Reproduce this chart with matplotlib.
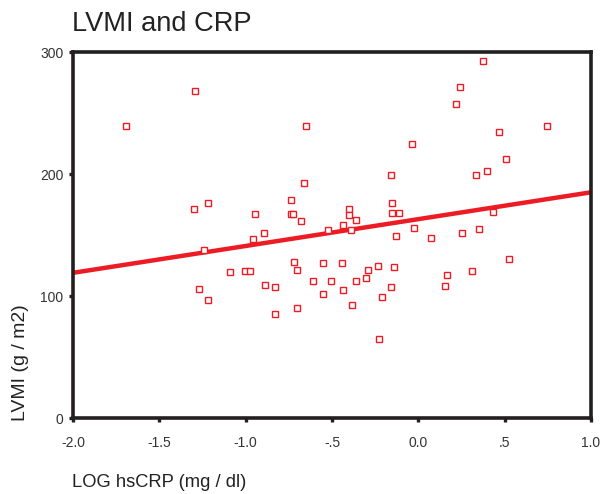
import matplotlib
matplotlib.use("Agg")
import matplotlib.pyplot as plt

plt.rcParams['font.family'] = ['Liberation Sans', 'DejaVu Sans']

# LOG hsCRP values (x) and LVMI values (y)
log_crp = [-1.695, -1.293, -1.301, -1.221, -0.948, -0.960, -0.651, -0.035,
           -0.160, -0.661, -0.740, -0.740, -0.724, -0.678, -0.894, -0.399,
           -0.399, -0.360, -0.435, -0.522, -0.389, -0.152, -0.152, -0.110,
           -0.027, -0.127, 0.073, 0.372, 0.243, 0.218, 0.744, 0.468,
           0.509, 0.397, 0.335, 0.435, 0.351, 0.250, -1.241, -1.089,
           -1.004, -0.977, -1.270, -1.220, -0.721, -0.701, -0.551, -0.443,
           -0.289, -0.235, -0.143, 0.164, 0.154, -0.886, -0.828, -0.611,
           -0.507, -0.360, -0.302, -0.160, -0.551, -0.435, -0.210, -0.386,
           -0.703, -0.832, -0.225, 0.526, 0.308]
lvmi = [239.3, 267.8, 171.6, 176.0, 167.0, 146.7, 239.3, 224.3,
        198.9, 192.4, 178.7, 167.0, 167.0, 161.2, 151.6, 171.1,
        166.6, 162.3, 158.2, 154.3, 153.9, 176.0, 168.3, 168.3,
        155.7, 149.4, 147.3, 292.6, 271.3, 257.1, 239.3, 234.7,
        212.0, 202.5, 198.9, 169.1, 154.9, 151.6, 138.0, 119.7,
        120.7, 120.7, 106.0, 97.0, 127.9, 121.3, 126.8, 126.8,
        121.3, 124.8, 123.8, 117.2, 107.9, 109.0, 107.1, 112.5,
        112.5, 112.5, 114.8, 107.1, 101.9, 104.7, 99.4, 92.4,
        90.4, 85.2, 65.0, 130.3, 120.7]

# regression line ends
fit_x = [-2.0, 1.0]
fit_y = [119.0, 185.0]

x_ticks = [-2.0, -1.5, -1.0, -0.5, 0.0, 0.5, 1.0]
x_tick_labels = ["-2.0", "-1.5", "-1.0", "-.5", "0.0", ".5", "1.0"]
y_ticks = [0, 100, 200, 300]

red = "#ed1c24"
dark = "#231f20"

fig = plt.figure(figsize=(6.01, 4.94), dpi=100)
ax = fig.add_axes([73/601, 76/494, 518/601, 366/494])

ax.plot(fit_x, fit_y, color=red, lw=3.2, solid_capstyle="butt", zorder=2)
ax.plot(log_crp, lvmi, ls="none", marker="s", markersize=4.6,
        markerfacecolor="white", markeredgecolor=red, markeredgewidth=1.0,
        zorder=3)

ax.set_xlim(-2.0, 1.0)
ax.set_ylim(0, 300)
ax.set_xticks(x_ticks)
ax.set_xticklabels(x_tick_labels)
ax.set_yticks(y_ticks)

for s in ax.spines.values():
    s.set_linewidth(2.6)
    s.set_color(dark)
ax.tick_params(axis="both", direction="out", length=3, width=2.4,
               color=dark, labelsize=10, labelcolor="#333333")
ax.tick_params(axis="x", pad=10)
ax.tick_params(axis="y", pad=4)

fig.text(72/601, 1 - 24/494, "LVMI and CRP", fontsize=19.6,
         ha="left", va="center", color="#222222")
fig.text(72/601, 1 - 482/494, "LOG hsCRP (mg / dl)", fontsize=13.2,
         ha="left", va="center", color="#222222")
fig.text(21/601, 1 - 421/494, "LVMI (g / m2)", fontsize=14,
         rotation=90, ha="center", va="bottom", color="#222222")

fig.savefig("out.png", dpi=100)
